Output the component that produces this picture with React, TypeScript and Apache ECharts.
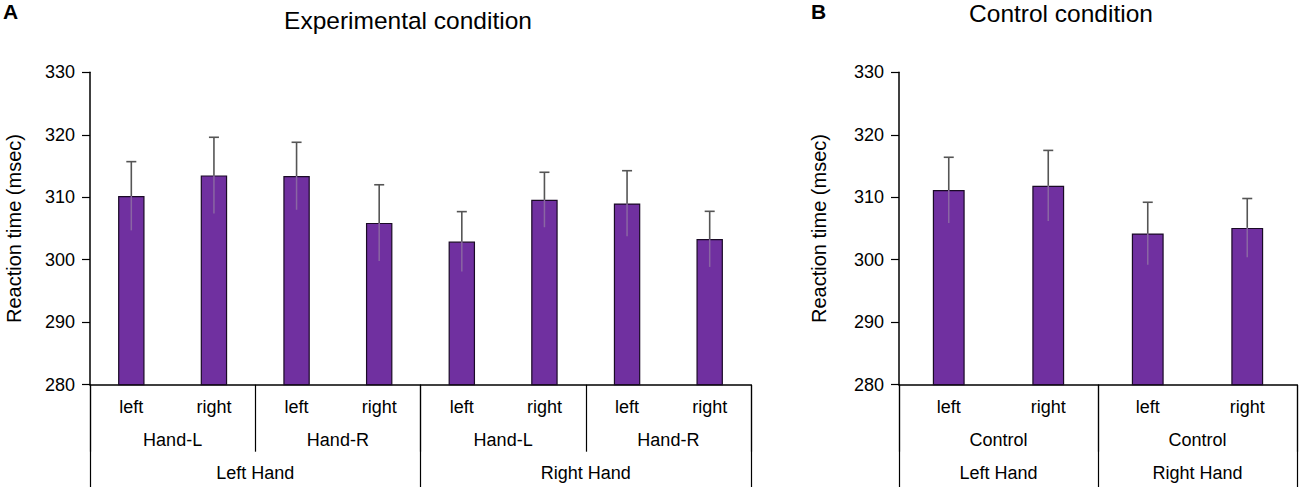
import React, { useEffect, useRef } from "react";
import * as echarts from "echarts";

const FONT = "'Liberation Sans', Arial, Helvetica, sans-serif";

// Experimental condition (panel A)
const expLevel1 = ["left", "right", "left", "right", "left", "right", "left", "right"];
const expLevel2 = ["Hand-L", "Hand-R", "Hand-L", "Hand-R"];
const expLevel3 = ["Left Hand", "Right Hand"];
const expValues = [310.2, 313.5, 313.4, 305.9, 302.9, 309.6, 309.0, 303.3];
const expErrors = [5.5, 6.1, 5.4, 6.1, 4.8, 4.4, 5.25, 4.45];

// Control condition (panel B)
const ctrlLevel1 = ["left", "right", "left", "right"];
const ctrlLevel2 = ["Control", "Control"];
const ctrlLevel3 = ["Left Hand", "Right Hand"];
const ctrlValues = [311.15, 311.85, 304.2, 305.1];
const ctrlErrors = [5.25, 5.65, 5.0, 4.7];

const yMin = 280;
const yMax = 330;
const yInterval = 10;
const yName = "Reaction time (msec)";

const BAR_COLOR = "#7030A0";
const ERR_COLOR = "#555555";

function errorRender(params: any, api: any) {
  const x = api.value(0);
  const v = api.value(1);
  const e = api.value(2);
  const top = api.coord([x, v + e]);
  const mid = api.coord([x, v]);
  const low = api.coord([x, v - e]);
  const cap = 5;
  return {
    type: "group",
    children: [
      {
        type: "line",
        shape: { x1: mid[0], y1: mid[1], x2: low[0], y2: low[1] },
        style: { stroke: "#8a66a3", lineWidth: 1.5 },
      },
      {
        type: "line",
        shape: { x1: top[0], y1: top[1], x2: mid[0], y2: mid[1] },
        style: { stroke: ERR_COLOR, lineWidth: 1.6 },
      },
      {
        type: "line",
        shape: { x1: top[0] - cap, y1: top[1], x2: top[0] + cap, y2: top[1] },
        style: { stroke: ERR_COLOR, lineWidth: 1.6 },
      },
    ],
  };
}

function levelAxes(gridIndex: number, l1: string[], l2: string[], l3: string[]) {
  const labelBase = { color: "#000", fontSize: 18, fontFamily: FONT, interval: 0 };
  return [
    {
      type: "category",
      gridIndex,
      position: "bottom",
      data: l1,
      boundaryGap: true,
      axisLine: { show: true, lineStyle: { color: "#000", width: 1.5 } },
      axisTick: { show: false },
      axisLabel: { ...labelBase, margin: 13 },
      splitLine: { show: false },
    },
    {
      type: "category",
      gridIndex,
      position: "bottom",
      data: l2,
      boundaryGap: true,
      axisLine: { show: false },
      axisTick: { show: true, length: 67, alignWithLabel: false, interval: 0, lineStyle: { color: "#000", width: 1.2 } },
      axisLabel: { ...labelBase, margin: 46 },
      splitLine: { show: false },
    },
    {
      type: "category",
      gridIndex,
      position: "bottom",
      data: l3,
      boundaryGap: true,
      axisLine: { show: false },
      axisTick: { show: true, length: 103, alignWithLabel: false, interval: 0, lineStyle: { color: "#000", width: 1.2 } },
      axisLabel: { ...labelBase, margin: 79 },
      splitLine: { show: false },
    },
  ];
}

function yAxisFor(gridIndex: number, nameGap: number) {
  return {
    type: "value",
    gridIndex,
    min: yMin,
    max: yMax,
    interval: yInterval,
    name: yName,
    nameLocation: "middle",
    nameRotate: 90,
    nameGap,
    nameTextStyle: { color: "#000", fontSize: 20, fontFamily: FONT },
    axisLine: { show: true, lineStyle: { color: "#000", width: 1.5 } },
    axisTick: { show: true, inside: false, length: 8, lineStyle: { color: "#000", width: 1.2 } },
    axisLabel: { color: "#000", fontSize: 18, fontFamily: FONT, margin: 15 },
    splitLine: { show: false },
  };
}

export default function App() {
  const ref = useRef<HTMLDivElement>(null);

  useEffect(() => {
    if (!ref.current) return;
    const chart = echarts.init(ref.current, undefined, { renderer: "svg" });
    const option: any = {
      animation: false,
      backgroundColor: "#fff",
      textStyle: { fontFamily: FONT },
      grid: [
        { left: 90, top: 72.3, width: 661, height: 312.4, containLabel: false, outerBoundsMode: "none" },
        { left: 899, top: 72.3, width: 398, height: 312.4, containLabel: false, outerBoundsMode: "none" },
      ],
      xAxis: [
        ...levelAxes(0, expLevel1, expLevel2, expLevel3),
        ...levelAxes(1, ctrlLevel1, ctrlLevel2, ctrlLevel3),
      ],
      yAxis: [yAxisFor(0, 66), yAxisFor(1, 70)],
      graphic: [
        {
          type: "text",
          left: 3,
          top: 1,
          style: { text: "A", fontSize: 21, fontWeight: "bold", fontFamily: FONT, fill: "#000" },
        },
        {
          type: "text",
          left: 811,
          top: 1,
          style: { text: "B", fontSize: 21, fontWeight: "bold", fontFamily: FONT, fill: "#000" },
        },
        {
          type: "text",
          x: 408,
          y: 20,
          style: {
            text: "Experimental condition",
            fontSize: 24.5,
            fontFamily: FONT,
            fill: "#000",
            align: "center",
            verticalAlign: "middle",
          },
        },
        {
          type: "text",
          x: 1061,
          y: 13.5,
          style: {
            text: "Control condition",
            fontSize: 24.5,
            fontFamily: FONT,
            fill: "#000",
            align: "center",
            verticalAlign: "middle",
          },
        },
      ],
      series: [
        {
          type: "bar",
          xAxisIndex: 0,
          yAxisIndex: 0,
          data: expValues,
          barWidth: "32%",
          itemStyle: { color: BAR_COLOR, borderColor: "#1a0a26", borderWidth: 1.2 },
        },
        {
          type: "custom",
          xAxisIndex: 0,
          yAxisIndex: 0,
          renderItem: errorRender,
          encode: { x: 0, y: 1 },
          data: expValues.map((v, i) => [i, v, expErrors[i]]),
          z: 5,
        },
        {
          type: "bar",
          xAxisIndex: 3,
          yAxisIndex: 1,
          data: ctrlValues,
          barWidth: "32%",
          itemStyle: { color: BAR_COLOR, borderColor: "#1a0a26", borderWidth: 1.2 },
        },
        {
          type: "custom",
          xAxisIndex: 3,
          yAxisIndex: 1,
          renderItem: errorRender,
          encode: { x: 0, y: 1 },
          data: ctrlValues.map((v, i) => [i, v, ctrlErrors[i]]),
          z: 5,
        },
      ],
    };
    chart.setOption(option);
    return () => chart.dispose();
  }, []);

  return (
    <div
      ref={ref}
      style={{ position: "absolute", left: 0, top: 0, width: 1300, height: 487, background: "#fff" }}
    />
  );
}
